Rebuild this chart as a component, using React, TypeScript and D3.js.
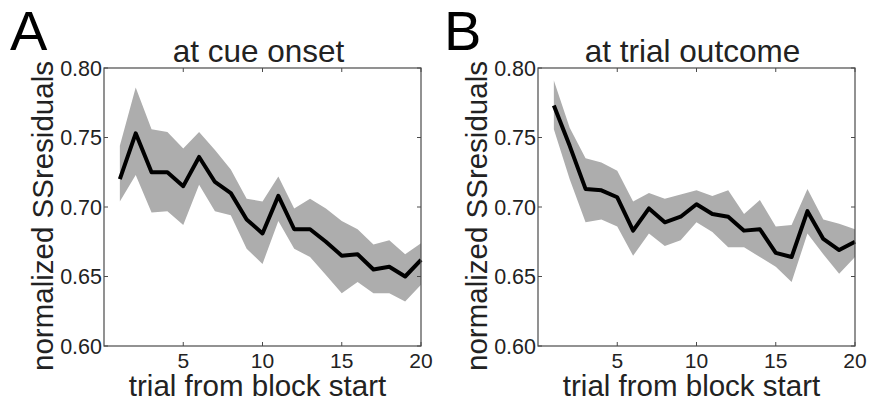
import React, { useEffect, useRef } from "react";
import * as d3 from "d3";

const trials = d3.range(1, 21);

// panel A: at cue onset
const cueMean = [0.720, 0.753, 0.725, 0.725, 0.715, 0.736, 0.718, 0.710, 0.691, 0.681,
  0.708, 0.684, 0.684, 0.675, 0.665, 0.666, 0.655, 0.657, 0.650, 0.662];
const cueUpper = [0.744, 0.786, 0.756, 0.754, 0.742, 0.754, 0.741, 0.727, 0.706, 0.704,
  0.722, 0.699, 0.706, 0.699, 0.690, 0.684, 0.673, 0.676, 0.666, 0.674];
const cueLower = [0.704, 0.723, 0.696, 0.697, 0.687, 0.716, 0.697, 0.694, 0.670, 0.659,
  0.690, 0.670, 0.664, 0.651, 0.638, 0.646, 0.638, 0.638, 0.632, 0.644];

// panel B: at trial outcome
const outMean = [0.773, 0.744, 0.713, 0.712, 0.707, 0.683, 0.699, 0.689, 0.693, 0.702,
  0.695, 0.693, 0.683, 0.684, 0.667, 0.664, 0.697, 0.677, 0.669, 0.675];
const outUpper = [0.791, 0.757, 0.735, 0.732, 0.726, 0.704, 0.710, 0.706, 0.709, 0.712,
  0.708, 0.712, 0.695, 0.705, 0.686, 0.687, 0.713, 0.691, 0.688, 0.684];
const outLower = [0.756, 0.720, 0.689, 0.691, 0.686, 0.665, 0.681, 0.672, 0.676, 0.689,
  0.682, 0.671, 0.671, 0.664, 0.657, 0.646, 0.681, 0.666, 0.652, 0.664];

const xTicks = [5, 10, 15, 20];
const yTicks = [0.60, 0.65, 0.70, 0.75, 0.80];

const panels = [
  { letter: "A", title: "at cue onset", left: 104, mean: cueMean, upper: cueUpper, lower: cueLower },
  { letter: "B", title: "at trial outcome", left: 538, mean: outMean, upper: outUpper, lower: outLower },
];

const App = () => {
  const ref = useRef<SVGSVGElement>(null);

  useEffect(() => {
    const svg = d3.select(ref.current);
    svg.selectAll("*").remove();

    const top = 68;
    const bottom = 346;
    const w = 317;
    const tick = 4;
    const font = "Liberation Sans, Arial, sans-serif";

    panels.forEach(p => {
      const x = d3.scaleLinear().domain([0, 20]).range([p.left, p.left + w]);
      const y = d3.scaleLinear().domain([0.6, 0.8]).range([bottom, top]);
      const g = svg.append("g").attr("font-family", font);

      const area = d3.area<number>()
        .x(i => x(trials[i]))
        .y0(i => y(p.lower[i]))
        .y1(i => y(p.upper[i]));
      g.append("path")
        .attr("d", area(d3.range(trials.length)))
        .attr("fill", "#adadad");

      const line = d3.line<number>()
        .x(i => x(trials[i]))
        .y(i => y(p.mean[i]));
      g.append("path")
        .attr("d", line(d3.range(trials.length)))
        .attr("fill", "none")
        .attr("stroke", "#000")
        .attr("stroke-width", 4)
        .attr("stroke-linejoin", "round");

      // box
      g.append("rect")
        .attr("x", x(0)).attr("y", top)
        .attr("width", w).attr("height", bottom - top)
        .attr("fill", "none").attr("stroke", "#4a4a4a").attr("stroke-width", 1.2);

      // inward ticks on all sides
      xTicks.forEach(t => {
        g.append("line").attr("x1", x(t)).attr("x2", x(t)).attr("y1", bottom).attr("y2", bottom - tick)
          .attr("stroke", "#4a4a4a");
        g.append("line").attr("x1", x(t)).attr("x2", x(t)).attr("y1", top).attr("y2", top + tick)
          .attr("stroke", "#4a4a4a");
        g.append("text").attr("x", x(t)).attr("y", 368)
          .attr("text-anchor", "middle").attr("font-size", 21).attr("fill", "#222")
          .text(t);
      });
      yTicks.forEach(t => {
        g.append("line").attr("x1", x(0)).attr("x2", x(0) + tick).attr("y1", y(t)).attr("y2", y(t))
          .attr("stroke", "#4a4a4a");
        g.append("line").attr("x1", x(20)).attr("x2", x(20) - tick).attr("y1", y(t)).attr("y2", y(t))
          .attr("stroke", "#4a4a4a");
        g.append("text").attr("x", x(0) - 2).attr("y", y(t)).attr("dy", "0.36em")
          .attr("text-anchor", "end").attr("font-size", 21.5).attr("fill", "#222")
          .text(t.toFixed(2));
      });

      g.append("text")
        .attr("x", p.left + w / 2 - 5).attr("y", 396)
        .attr("text-anchor", "middle").attr("font-size", 29.5).attr("fill", "#222")
        .text("trial from block start");

      g.append("text")
        .attr("transform", `translate(${p.left - 51},${(top + bottom) / 2 + 9}) rotate(-90)`)
        .attr("text-anchor", "middle").attr("font-size", 29.5).attr("fill", "#222")
        .text("normalized SSresiduals");

      g.append("text")
        .attr("x", p.left + w / 2 - 4).attr("y", 62)
        .attr("text-anchor", "middle").attr("font-size", 31.5).attr("fill", "#222")
        .text(p.title);

      g.append("text")
        .attr("x", p.left - 94).attr("y", 50)
        .attr("font-size", 56).attr("fill", "#000")
        .text(p.letter);
    });
  }, []);

  return (
    <svg ref={ref} width={872} height={407}
      style={{ position: "absolute", left: 0, top: 0, background: "#fff" }} />
  );
};

export default App;
